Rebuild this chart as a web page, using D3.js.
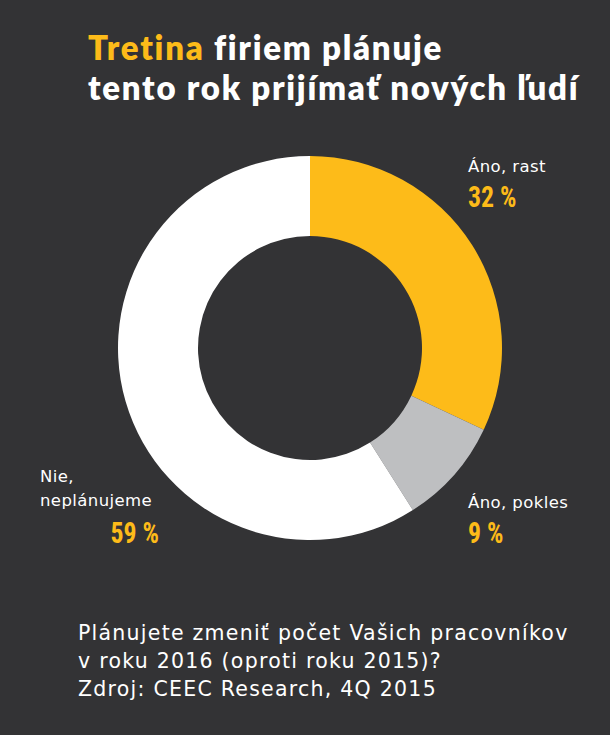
<!DOCTYPE html>
<html><head><meta charset="utf-8">
<script src="https://cdn.jsdelivr.net/npm/d3@7/dist/d3.min.js"></script>
<style>body{margin:0;background:#333335}svg{display:block}</style>
</head><body>
<svg id="c" width="610" height="735"></svg>
<script>
const categories = ["Áno, rast", "Áno, pokles", "Nie, neplánujeme"];
const values = [32, 9, 59];
const valueLabels = ["32 %", "9 %", "59 %"];
const colors = ["#FDBB19", "#BEBFC1", "#FFFFFF"];
const titleLine1 = ["Tretina", " firiem plánuje"];
const titleLine2 = "tento rok prijímať nových ľudí";
const footer = ["Plánujete zmeniť počet Vašich pracovníkov", "v roku 2016 (oproti roku 2015)?", "Zdroj: CEEC Research, 4Q 2015"];

const svg = d3.select("#c");
svg.append("rect").attr("width",610).attr("height",735).attr("fill","#333335");

const tf = {family:"Lato, sans-serif", weight:800, size:33, ls:1.75};
const t = svg.append("text").attr("x",88).attr("y",60)
  .attr("font-family",tf.family).attr("font-weight",tf.weight).attr("font-size",tf.size).attr("letter-spacing",tf.ls);
t.append("tspan").attr("fill","#FDBB19").text(titleLine1[0]);
t.append("tspan").attr("fill","#fff").text(titleLine1[1]);
svg.append("text").attr("x",88).attr("y",100)
  .attr("font-family",tf.family).attr("font-weight",tf.weight).attr("font-size",tf.size).attr("letter-spacing",tf.ls)
  .attr("fill","#fff").text(titleLine2);

const pie = d3.pie().sort(null).value(d=>d);
const arc = d3.arc().innerRadius(112).outerRadius(192);
const g = svg.append("g").attr("transform","translate(310,348)");
g.selectAll("path").data(pie(values)).join("path")
  .attr("d",arc).attr("fill",(d,i)=>colors[i]);

function label(x, y, lines, anchor){
  lines.forEach((l,i)=>svg.append("text").attr("x",x).attr("y",y+i*24)
    .attr("font-family","DejaVu Sans, sans-serif").attr("font-size",16.5).attr("letter-spacing",0.4)
    .attr("fill","#fff").attr("text-anchor",anchor).text(l));
}
function num(x,y,txt,anchor){
  svg.append("text").attr("transform",`translate(${x},${y}) scale(0.86,1)`).attr("text-anchor",anchor)
    .attr("font-family","Liberation Sans Narrow, Roboto, sans-serif").attr("font-stretch","condensed")
    .attr("font-weight",700).attr("font-size",30).attr("fill","#FDBB19").text(txt);
}
label(468,172,[categories[0]],"start");
num(468,207,valueLabels[0],"start");
label(468,508,[categories[1]],"start");
num(468,543,valueLabels[1],"start");
label(40,482,["Nie,","neplánujeme"],"start");
num(159,543,valueLabels[2],"end");

footer.forEach((f,i)=>svg.append("text").attr("x",78).attr("y",640+i*28)
  .attr("font-family","DejaVu Sans, sans-serif").attr("font-size",20.5).attr("letter-spacing",1.25)
  .attr("fill","#fff").text(f));
</script>
</body></html>
